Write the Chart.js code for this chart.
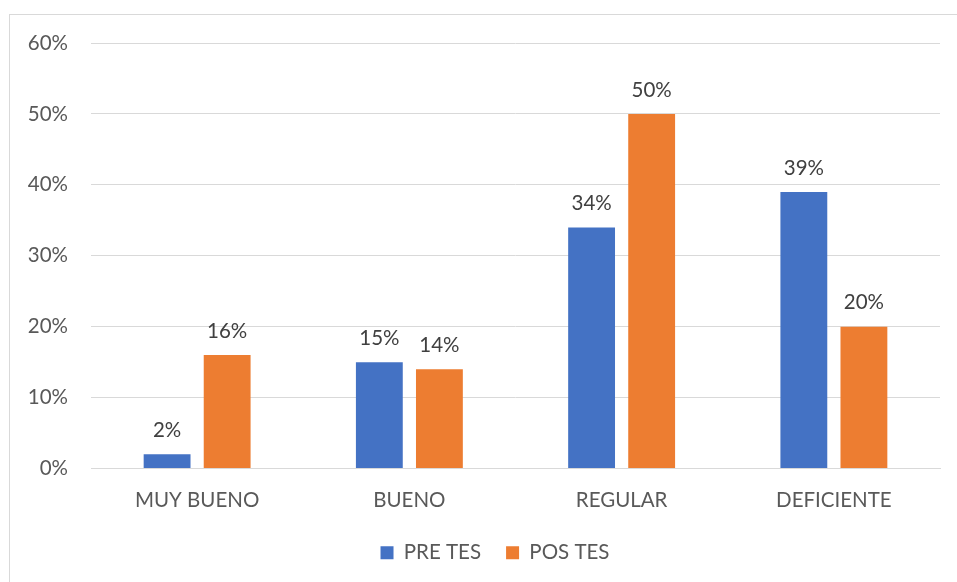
<!DOCTYPE html>
<html>
<head>
<meta charset="utf-8">
<script src="https://cdn.jsdelivr.net/npm/chart.js@4"></script>
<style>
  html, body { margin: 0; padding: 0; background: #fff; }
  #wrap { position: relative; width: 957px; height: 582px; overflow: hidden; }
  #frame { position: absolute; left: 9px; top: 14px; width: 960px; height: 600px; border: 1px solid #d9d9d9; box-sizing: border-box; }
  canvas { position: absolute; left: 0; top: 0; }
</style>
</head>
<body>
<div id="wrap">
  <div id="frame"></div>
  <canvas id="chart" width="957" height="582"></canvas>
</div>
<script>
// Data
const categories = ['MUY BUENO', 'BUENO', 'REGULAR', 'DEFICIENTE'];
const preTes = [2, 15, 34, 39];
const posTes = [16, 14, 50, 20];
const seriesNames = ['PRE TES', 'POS TES'];

const FONT = 'Lato, "Open Sans", sans-serif';
const TEXT = '#595959';
const SIZE = 20.5;

// draws the value on top of every bar
const barLabels = {
  id: 'barLabels',
  afterDatasetsDraw(chart) {
    const ctx = chart.ctx;
    ctx.save();
    ctx.font = SIZE + 'px ' + FONT;
    ctx.fillStyle = '#404040';
    ctx.textAlign = 'center';
    ctx.textBaseline = 'middle';
    chart.data.datasets.forEach((ds, i) => {
      chart.getDatasetMeta(i).data.forEach((bar, j) => {
        ctx.fillText(ds.data[j] + '%', bar.x, bar.y - 24);
      });
    });
    ctx.restore();
  }
};

// nudge the legend a bit to the right, like the original
const legendShift = {
  id: 'legendShift',
  afterLayout(chart) {
    chart.legend.left += 25;
    chart.legend.right += 25;
  }
};

new Chart(document.getElementById('chart'), {
  type: 'bar',
  data: {
    labels: categories,
    datasets: [
      { label: seriesNames[0], data: preTes, backgroundColor: '#4472c4' },
      { label: seriesNames[1], data: posTes, backgroundColor: '#ed7d31' }
    ]
  },
  options: {
    responsive: false,
    animation: false,
    layout: { padding: { top: 43, right: 17, bottom: 9, left: 0 } },
    datasets: { bar: { categoryPercentage: 0.566, barPercentage: 0.78 } },
    scales: {
      x: {
        afterFit(s) { s.height = 49; },
        grid: { display: false },
        border: { color: '#d9d9d9' },
        ticks: { color: TEXT, font: { family: FONT, size: SIZE }, padding: 12 },
      },
      y: {
        min: 0, max: 60,
        afterFit(s) { s.width = 91; },
        grid: { color: '#d9d9d9', drawTicks: false },
        border: { display: false },
        ticks: { stepSize: 10, color: TEXT, padding: 23, font: { family: FONT, size: SIZE }, callback: v => v + '%' }
      }
    },
    plugins: {
      tooltip: { enabled: false },
      legend: {
        position: 'bottom',
        labels: { boxWidth: 13, boxHeight: 13, color: TEXT, font: { family: FONT, size: SIZE }, padding: 25 }
      }
    }
  },
  plugins: [barLabels, legendShift]
});
</script>
</body>
</html>
